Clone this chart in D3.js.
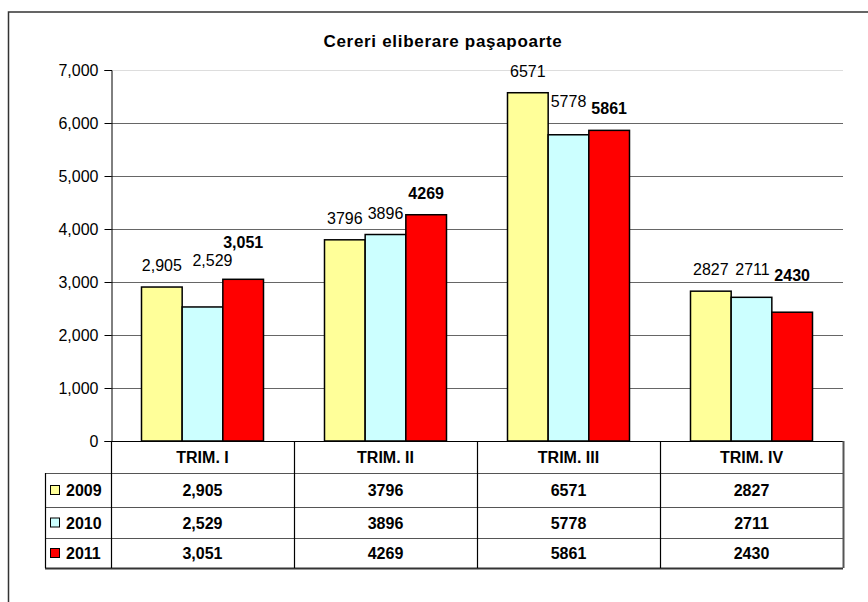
<!DOCTYPE html>
<meta charset="utf-8">
<head>
<style>
  body { margin: 0; background: #fff; }
  text { font-family: Arial, "Liberation Sans", sans-serif; }
</style>
<script src="https://cdn.jsdelivr.net/npm/d3@7"></script>
</head>
<body>
<script>

var categories = ["TRIM. I", "TRIM. II", "TRIM. III", "TRIM. IV"];
var years = ["2009", "2010", "2011"];
var values2009 = [2905, 3796, 6571, 2827];
var values2010 = [2529, 3896, 5778, 2711];
var values2011 = [3051, 4269, 5861, 2430];
var yTicks = [0, 1000, 2000, 3000, 4000, 5000, 6000, 7000];
// first quarter is shown with thousands separator, the rest plain
var catFormats = [",", "d", "d", "d"];

var colors = ["#ffff99", "#ccffff", "#ff0000"];
var series = [values2009, values2010, values2011];

// labels that were dragged by hand in the original
var labelNudge = { "1-0": [10, -25], "2-0": [0, -15], "1-2": [0, -12], "1-3": [1, -6], "2-3": [0, -15] };

var width = 868, height = 602;
var plotLeft = 111, plotRight = 843, plotTop = 70, base = 441;
var rowH = [32, 34, 31, 30];

var svg = d3.select("body").append("svg")
    .attr("width", width)
    .attr("height", height);

// outer frame (only top and left fit in the window)
svg.append("rect")
    .attr("x", 8.5).attr("y", 12)
    .attr("width", 900).attr("height", 700)
    .style("fill", "none").style("stroke", "#333").style("stroke-width", 1.5);

svg.append("text")
    .attr("x", 443).attr("y", 47)
    .attr("text-anchor", "middle")
    .style("font-size", "17px").style("font-weight", "bold").style("letter-spacing", "0.7px")
    .text("Cereri eliberare paşapoarte");

var y = d3.scaleLinear().domain([0, 7000]).range([base, plotTop]);
var x0 = d3.scaleBand().domain(categories).range([plotLeft, plotRight]);
var x1 = d3.scaleBand().domain(years)
    .range([x0.bandwidth() / 6, x0.bandwidth() * 5 / 6]);

// gridlines
svg.append("g").selectAll("line")
    .data(yTicks.filter(function(d) { return d > 0; }))
  .enter().append("line")
    .attr("x1", plotLeft).attr("x2", plotRight)
    .attr("y1", function(d) { return Math.round(y(d)) + 0.5; })
    .attr("y2", function(d) { return Math.round(y(d)) + 0.5; })
    .style("stroke", function(d) { return d == 7000 ? "#ddd" : "#666"; })
    .style("stroke-width", 1);

// y axis
var yAxis = svg.append("g")
    .attr("transform", "translate(" + (plotLeft + 0.5) + ",0)")
    .call(d3.axisLeft(y).tickValues(yTicks).tickFormat(d3.format(",")).tickSize(7).tickPadding(6));
yAxis.select(".domain").style("stroke", "#000");
yAxis.selectAll(".tick line").style("stroke", "#000");
yAxis.selectAll("text")
    .style("font-size", "16px").style("font-family", "Arial, 'Liberation Sans', sans-serif")
    .attr("fill", "#000");

// bars
var groups = svg.append("g").selectAll("g")
    .data(categories)
  .enter().append("g")
    .attr("transform", function(d) { return "translate(" + x0(d) + ",0)"; });

groups.selectAll("rect")
    .data(function(d, ci) { return years.map(function(yr, si) { return {ci: ci, si: si, v: series[si][ci]}; }); })
  .enter().append("rect")
    .attr("x", function(d) { return x1(years[d.si]); })
    .attr("y", function(d) { return y(d.v); })
    .attr("width", x1.bandwidth())
    .attr("height", function(d) { return base - y(d.v); })
    .style("fill", function(d) { return colors[d.si]; })
    .style("stroke", "#000").style("stroke-width", 1.5);

groups.selectAll("text.val")
    .data(function(d, ci) { return years.map(function(yr, si) { return {ci: ci, si: si, v: series[si][ci]}; }); })
  .enter().append("text")
    .attr("class", "val")
    .attr("x", function(d) {
        var n = labelNudge[d.si + "-" + d.ci];
        return x1(years[d.si]) + x1.bandwidth() / 2 + (n ? n[0] : 0);
    })
    .attr("y", function(d) {
        var n = labelNudge[d.si + "-" + d.ci];
        return y(d.v) - 16 + (n ? n[1] : 0);
    })
    .attr("text-anchor", "middle")
    .style("font-size", "16px")
    .style("font-weight", function(d) { return d.si == 2 ? "bold" : "normal"; })
    .text(function(d) { return d3.format(catFormats[d.ci])(d.v); });

// data table
var tableLeft = 45;
var rowY = [base];
rowH.forEach(function(h, i) { rowY.push(rowY[i] + h); });
var tableBottom = rowY[rowY.length - 1];

var table = svg.append("g");

// category header text
table.selectAll("text.cat")
    .data(categories)
  .enter().append("text")
    .attr("class", "cat")
    .attr("x", function(d) { return x0(d) + x0.bandwidth() / 2; })
    .attr("y", (rowY[0] + rowY[1]) / 2 + 6)
    .attr("text-anchor", "middle")
    .style("font-size", "16px").style("font-weight", "bold")
    .text(function(d) { return d; });

// horizontal row lines
table.selectAll("line.row")
    .data(rowY.slice(1))
  .enter().append("line")
    .attr("class", "row")
    .attr("x1", tableLeft).attr("x2", plotRight)
    .attr("y1", function(d) { return d + 0.5; })
    .attr("y2", function(d) { return d + 0.5; })
    .style("stroke", function(d, i) { return i == rowY.length - 2 ? "#333" : "#555"; })
    .style("stroke-width", function(d, i) { return i == rowY.length - 2 ? 2 : 1.2; });

// x axis line
table.append("line")
    .attr("x1", plotLeft).attr("x2", plotRight)
    .attr("y1", base + 0.5).attr("y2", base + 0.5)
    .style("stroke", "#000").style("stroke-width", 1.2);

// vertical lines
var vx = [plotLeft].concat(categories.map(function(d) { return x0(d) + x0.bandwidth(); }));
table.selectAll("line.col")
    .data(vx)
  .enter().append("line")
    .attr("class", "col")
    .attr("x1", function(d) { return Math.round(d) + 0.5; })
    .attr("x2", function(d) { return Math.round(d) + 0.5; })
    .attr("y1", base).attr("y2", tableBottom)
    .style("stroke", function(d, i) { return i == vx.length - 1 ? "#555" : "#000"; })
    .style("stroke-width", function(d, i) { return i == vx.length - 1 ? 2 : 1.2; });

table.append("line")
    .attr("x1", tableLeft + 0.5).attr("x2", tableLeft + 0.5)
    .attr("y1", rowY[1]).attr("y2", tableBottom)
    .style("stroke", "#000").style("stroke-width", 1.2);

// legend keys and values
years.forEach(function(yr, si) {
    var cy = (rowY[si + 1] + rowY[si + 2]) / 2;
    table.append("rect")
        .attr("x", 50.5).attr("y", cy - 4.5)
        .attr("width", 9).attr("height", 9)
        .style("fill", colors[si]).style("stroke", "#000").style("stroke-width", 1);
    table.append("text")
        .attr("x", 66).attr("y", cy + 6)
        .style("font-size", "16px").style("font-weight", "bold")
        .text(yr);
    table.selectAll("text.v" + si)
        .data(categories)
      .enter().append("text")
        .attr("x", function(d) { return x0(d) + x0.bandwidth() / 2; })
        .attr("y", cy + 6)
        .attr("text-anchor", "middle")
        .style("font-size", "16px").style("font-weight", "bold")
        .text(function(d, ci) { return d3.format(catFormats[ci])(series[si][ci]); });
});

</script>
</body>
